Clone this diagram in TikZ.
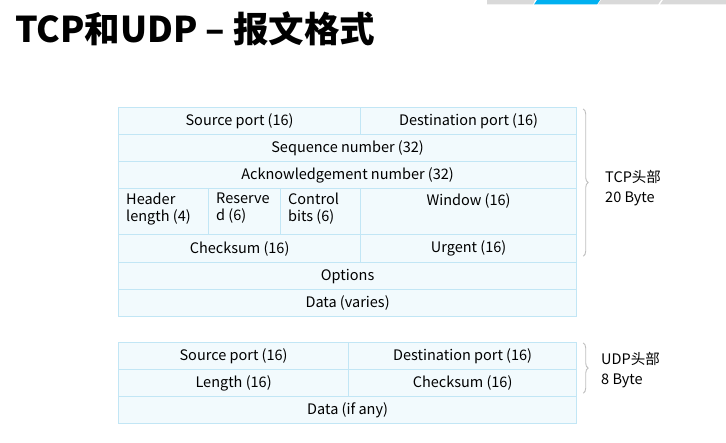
\documentclass[tikz,border=0pt]{standalone}
\usepackage{fontspec}
\setmainfont{Noto Sans CJK SC}
\usetikzlibrary{calc,decorations.pathreplacing}

\definecolor{cellfill}{HTML}{F2FAFD}
\definecolor{cellline}{HTML}{C2E6F5}
\definecolor{bracegray}{HTML}{BFBFBF}
\definecolor{bargray}{HTML}{D9D9D9}
\definecolor{barblue}{HTML}{00B0F0}

\tikzset{
  cell/.style={draw=cellline, fill=cellfill, line width=1.2pt, inner sep=0pt,
    anchor=north west, font=\fontsize{14.5}{17}\selectfont, text=black},
  celltext/.style={anchor=north west, inner sep=0pt, align=left,
    font=\fontsize{14.5}{17}\selectfont},
  hdrbrace/.style={draw=bracegray, line width=0.9pt,
    decorate, decoration={brace, amplitude=5pt}},
  sidelabel/.style={anchor=west, inner sep=0pt, align=left,
    font=\fontsize{14.5}{19.5}\selectfont},
}

\begin{document}
\begin{tikzpicture}[x=1pt,y=-1pt]
\useasboundingbox (0,0) rectangle (726,443);

% strip across the top right corner
\fill[bargray] (487,0) -- (535,0) -- (533,4.5) -- (487,4.5) -- cycle;
\fill[barblue] (537,0) -- (600,0) -- (597,4.5) -- (534,4.5) -- cycle;
\fill[bargray] (601,0) -- (661,0) -- (658,4.5) -- (598,4.5) -- cycle;
\fill[bargray] (663,0) -- (726,0) -- (726,4.5) -- (660,4.5) -- cycle;

% title
\node[anchor=west, inner sep=0pt, font=\fontsize{35.5}{38}\selectfont\bfseries]
  (title) at (15,29) {TCP和UDP – 报文格式};

% TCP header
\node[cell, minimum width=242, minimum height=27] (tsrc) at (118,107) {Source port (16)};
\node[cell, minimum width=216, minimum height=27] (tdst) at (360,107) {Destination port (16)};
\node[cell, minimum width=458, minimum height=27] (tseq) at (118,134) {Sequence number (32)};
\node[cell, minimum width=458, minimum height=27] (tack) at (118,161) {Acknowledgement number (32)};
\node[cell, minimum width=90, minimum height=46] (thlen) at (118,188) {};
\node[cell, minimum width=72, minimum height=46] (tresv) at (208,188) {};
\node[cell, minimum width=80, minimum height=46] (tctrl) at (280,188) {};
\node[cell, minimum width=216, minimum height=46] (twin) at (360,188) {};
\node[cell, minimum width=242, minimum height=28] (tcks) at (118,234) {Checksum (16)};
\node[cell, minimum width=216, minimum height=28] (turg) at (360,234) {Urgent (16)};
\node[cell, minimum width=458, minimum height=27] (topt) at (118,262) {Options};
\node[cell, minimum width=458, minimum height=27] (tdata) at (118,289) {Data (varies)};

\node[celltext] (thlentxt) at ($(thlen.north west)+(8,5)$) {Header\\length (4)};
\node[celltext] (tresvtxt) at ($(tresv.north west)+(8,5)$) {Reserve\\d (6)};
\node[celltext] (tctrltxt) at ($(tctrl.north west)+(8,5)$) {Control\\bits (6)};
\node[celltext, anchor=north] (twintxt) at ($(twin.north)+(0,5)$) {Window (16)};

% UDP header
\node[cell, minimum width=230, minimum height=27] (usrc) at (118,342) {Source port (16)};
\node[cell, minimum width=228, minimum height=27] (udst) at (348,342) {Destination port (16)};
\node[cell, minimum width=230, minimum height=27] (ulen) at (118,369) {Length (16)};
\node[cell, minimum width=228, minimum height=27] (ucks) at (348,369) {Checksum (16)};
\node[cell, minimum width=458, minimum height=27] (udata) at (118,396) {Data (if any)};

% braces marking the fixed header parts
\coordinate (tbtop) at ($(tdst.north east)+(6,2)$);
\coordinate (tbbot) at ($(turg.south east)+(6,-7)$);
\draw[hdrbrace] (tbtop) -- (tbbot);
\coordinate (ubtop) at ($(udst.north east)+(6,1)$);
\coordinate (ubbot) at ($(ucks.south east)+(6,-4)$);
\draw[hdrbrace] (ubtop) -- (ubbot);

\node[sidelabel] (tcplabel) at (605,188) {TCP头部\\20 Byte};
\node[sidelabel] (udplabel) at (601,370) {UDP头部\\8 Byte};
\end{tikzpicture}
\end{document}
